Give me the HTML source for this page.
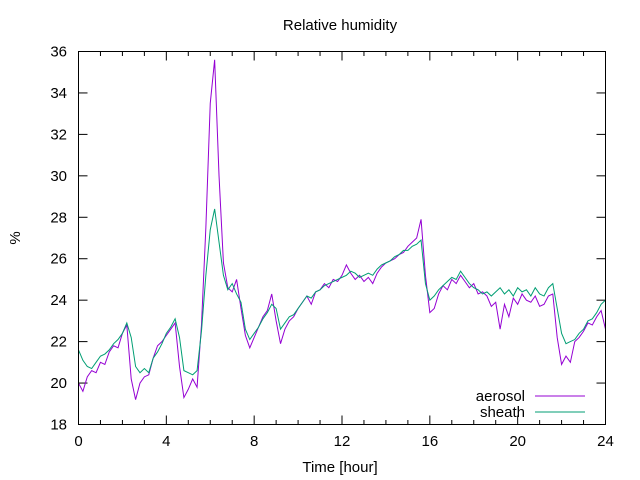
<!DOCTYPE html>
<html><head><meta charset="utf-8"><style>body{margin:0;background:#fff}svg{display:block;font-family:"Liberation Sans",sans-serif}</style></head>
<body>
<svg id="chart" width="640" height="480" viewBox="0 0 640 480" xmlns="http://www.w3.org/2000/svg">
<rect width="640" height="480" fill="#fff"/>
<text x="340" y="30" font-size="15" text-anchor="middle">Relative humidity</text>
<text x="20" y="238" font-size="15" text-anchor="middle" transform="rotate(-90 20 238)">%</text>
<text x="340" y="472" font-size="15" text-anchor="middle">Time [hour]</text>
<g id="axes"></g>
<g id="series"></g>
<g>
<text x="525" y="401" font-size="15" text-anchor="end">aerosol</text>
<line x1="535" y1="396" x2="585" y2="396" stroke="#9400d3" stroke-width="1"/>
<text x="525" y="417" font-size="15" text-anchor="end">sheath</text>
<line x1="535" y1="412" x2="585" y2="412" stroke="#009e73" stroke-width="1"/>
</g>
<rect x="78.5" y="51.5" width="527" height="373" fill="none" stroke="#000" stroke-width="1"/>
</svg>
<script>
const xTicks=[0,4,8,12,16,20,24];
const yTicks=[18,20,22,24,26,28,30,32,34,36];
const timeStart=0, timeStep=0.2;
const aerosol=[20.0,19.6,20.3,20.6,20.5,21.0,20.9,21.5,21.8,21.7,22.4,22.8,20.2,19.2,20.0,20.3,20.4,21.2,21.8,22.0,22.3,22.6,22.9,20.8,19.3,19.7,20.2,19.8,22.8,27.5,33.5,35.6,30.0,25.8,24.6,24.4,25.0,23.6,22.3,21.7,22.2,22.7,23.2,23.5,24.3,23.0,21.9,22.6,23.0,23.2,23.6,23.9,24.2,23.8,24.4,24.5,24.8,24.6,25.0,24.9,25.2,25.7,25.3,25.0,25.2,24.9,25.1,24.8,25.3,25.6,25.8,25.9,26.0,26.2,26.3,26.6,26.8,27.0,27.9,25.2,23.4,23.6,24.3,24.7,24.5,25.0,24.8,25.2,24.9,24.6,24.8,24.3,24.4,24.2,23.7,23.9,22.6,23.8,23.2,24.1,23.8,24.3,24.0,23.9,24.2,23.7,23.8,24.2,24.3,22.2,20.9,21.3,21.0,22.0,22.2,22.5,22.9,22.8,23.2,23.5,22.6];
const sheath=[21.6,21.1,20.8,20.7,21.0,21.3,21.4,21.6,21.9,22.1,22.4,22.9,22.2,20.8,20.5,20.7,20.5,21.2,21.5,21.9,22.4,22.7,23.1,22.2,20.6,20.5,20.4,20.6,22.5,25.2,27.4,28.4,26.8,25.2,24.5,24.8,24.3,23.9,22.6,22.1,22.4,22.7,23.1,23.4,23.8,23.6,22.6,22.9,23.2,23.3,23.6,23.9,24.2,24.1,24.4,24.5,24.7,24.8,24.9,25.0,25.1,25.2,25.4,25.3,25.1,25.2,25.3,25.2,25.5,25.7,25.8,25.9,26.1,26.2,26.4,26.4,26.6,26.7,26.9,24.8,24.0,24.2,24.5,24.7,24.9,25.1,25.0,25.4,25.1,24.8,24.6,24.5,24.3,24.4,24.2,24.4,24.6,24.3,24.5,24.2,24.6,24.4,24.5,24.2,24.6,24.3,24.2,24.6,24.8,23.6,22.4,21.9,22.0,22.1,22.4,22.6,23.0,23.1,23.4,23.8,24.0];

const L=78.5,R=605.5,T=51.5,B=424.5;
const xScale=v=>L+(v-0)/(24-0)*(R-L);
const yScale=v=>B-(v-18)/(36-18)*(B-T);
const NS="http://www.w3.org/2000/svg";
const axes=document.getElementById('axes');
function mk(tag,attrs,parent){const e=document.createElementNS(NS,tag);for(const k in attrs)e.setAttribute(k,attrs[k]);parent.appendChild(e);return e;}
for(let h=0;h<=24;h++){
  const x=xScale(h);const len=(h%4===0)?9:4.5;
  const t1=mk('line',{x1:x,y1:B,x2:x,y2:B-len,stroke:'#000'},axes);
  
  
  const t2=mk('line',{x1:x,y1:T,x2:x,y2:T+len,stroke:'#000'},axes);
  
  
}
xTicks.forEach(v=>{
  const t=mk('text',{x:xScale(v),y:446,'font-size':15,'text-anchor':'middle'},axes);t.textContent=v;
  
  
});
yTicks.forEach(v=>{
  const y=yScale(v);
  const a=mk('line',{x1:L,y1:y,x2:L+9,y2:y,stroke:'#000'},axes);
  
  
  const b=mk('line',{x1:R,y1:y,x2:R-9,y2:y,stroke:'#000'},axes);
  
  
  const t=mk('text',{x:67,y:y+5,'font-size':15,'text-anchor':'end'},axes);t.textContent=v;
  
  
});
const series=document.getElementById('series');
function draw(vals,color,name){
  const pts=vals.map((v,i)=>xScale(timeStart+i*timeStep).toFixed(2)+','+yScale(v).toFixed(2)).join(' ');
  const p=mk('polyline',{points:pts,fill:'none',stroke:color,'stroke-width':1},series);
  
  
}
draw(aerosol,'#9400d3','aerosol-line');
draw(sheath,'#009e73','sheath-line');
</script>
</body></html>
